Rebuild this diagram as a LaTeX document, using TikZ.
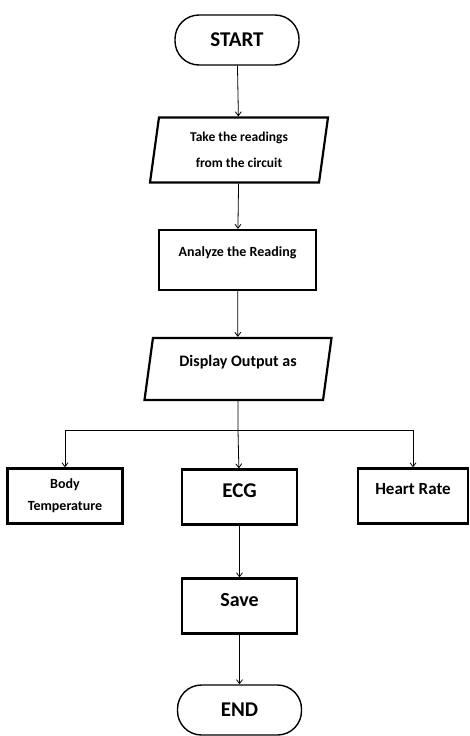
\documentclass[tikz,border=0pt]{standalone}
\usepackage{fontspec}
\setmainfont{Carlito}
\usetikzlibrary{shapes.geometric,arrows.meta}

\begin{document}
\begin{tikzpicture}[x=1pt, y=-1pt,
	terminal/.style={rectangle, rounded corners=24pt, draw, line width=1.4pt, minimum width=124pt, minimum height=50pt, font=\bfseries\fontsize{21}{24}\selectfont},
	io/.style={trapezium, trapezium left angle=78, trapezium right angle=102, trapezium stretches body, draw, line width=2.2pt, align=center},
	process/.style={rectangle, draw, line width=2.2pt, minimum width=115pt, minimum height=55pt, align=center},
	arrow/.style={draw, line width=0.8pt, -{Straight Barb[length=4pt,width=6pt]}}]
	\useasboundingbox (0,0) rectangle (470,736);

	% Main flow
	\node[terminal] (start) at (237,40) {START};
	\node[io, minimum width=178pt, minimum height=65pt, font=\bfseries\fontsize{13.5}{26}\selectfont] (read) at (239,150) {Take the readings\\from the circuit};
	\node[process, minimum width=157pt, minimum height=60pt, text depth=16pt, font=\bfseries\fontsize{14}{17}\selectfont] (analyze) at (237.5,260) {Analyze the Reading};
	\node[io, trapezium left angle=76, trapezium right angle=104, minimum width=187pt, minimum height=62pt, text depth=16pt, font=\bfseries\fontsize{16}{19}\selectfont] (display) at (238,369) {Display Output as};

	% Outputs
	\coordinate (split) at (238,430);
	\node[process, font=\bfseries\fontsize{14}{22}\selectfont] (body) at (65,496) {Body\\Temperature};
	\node[process, text depth=12pt, font=\bfseries\fontsize{21}{24}\selectfont] (ecg) at (239.5,497) {ECG};
	\node[process, minimum width=110pt, text depth=14pt, font=\bfseries\fontsize{17}{20}\selectfont] (heart) at (413,496) {Heart Rate};

	% Save and end
	\node[process, text depth=12pt, font=\bfseries\fontsize{20}{23}\selectfont] (save) at (239.5,606) {Save};
	\node[terminal] (end) at (239.5,710) {END};

	% Connectors
	\draw[arrow] (start) -- (read);
	\draw[arrow] (read) -- (analyze);
	\draw[arrow] (analyze) -- (display);
	\draw[line width=0.8pt] (display.south) -- (split);
	\draw[arrow] (split) -| (body);
	\draw[arrow] (split) -- (ecg);
	\draw[arrow] (split) -| (heart);
	\draw[arrow] (ecg) -- (save);
	\draw[arrow] (save) -- (end);
\end{tikzpicture}
\end{document}
